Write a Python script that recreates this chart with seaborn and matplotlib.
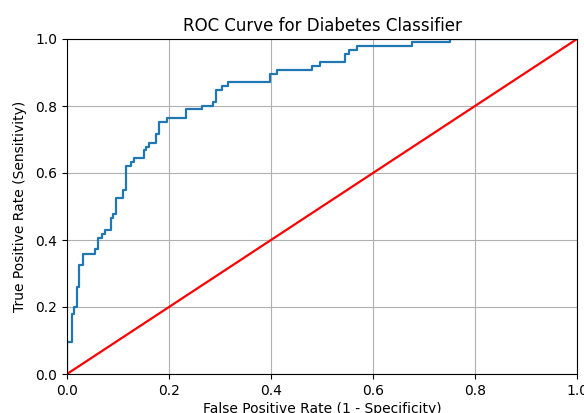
import matplotlib
matplotlib.use("Agg")
import matplotlib.pyplot as plt
import seaborn as sns

fpr = [0.0, 0.0, 0.009, 0.014, 0.020, 0.024, 0.032, 0.055, 0.061, 0.068, 0.074,
       0.086, 0.091, 0.097, 0.109, 0.115, 0.125, 0.132, 0.150, 0.155, 0.161,
       0.175, 0.180, 0.197, 0.233, 0.264, 0.287, 0.292, 0.303, 0.316, 0.399,
       0.411, 0.481, 0.496, 0.545, 0.552, 0.568, 0.676, 0.751, 1.0]
tpr = [0.0, 0.095, 0.18, 0.20, 0.26, 0.325, 0.357, 0.373, 0.405, 0.418, 0.43,
       0.465, 0.478, 0.526, 0.549, 0.621, 0.632, 0.644, 0.669, 0.679, 0.690,
       0.715, 0.751, 0.764, 0.790, 0.799, 0.811, 0.849, 0.860, 0.871, 0.896,
       0.907, 0.918, 0.930, 0.954, 0.967, 0.980, 0.990, 1.0, 1.0]
diag = [0.0, 1.0]

title = "ROC Curve for Diabetes Classifier"
xlabel = "False Positive Rate (1 - Specificity)"
ylabel = "True Positive Rate (Sensitivity)"

plt.rcParams['font.family'] = ['DejaVu Sans']
fig = plt.figure(figsize=(5.84, 4.13), dpi=100)
ax = fig.add_axes([67/584, 39/413, 510/584, 335/413])

sns.lineplot(x=fpr, y=tpr, estimator=None, sort=False, drawstyle='steps-post',
             color='#1f77b4', linewidth=1.6, ax=ax)
sns.lineplot(x=diag, y=diag, estimator=None, sort=False, color='red',
             linewidth=1.6, ax=ax)

ax.set_xlim(0, 1)
ax.set_ylim(0, 1)
ax.set_title(title, fontsize=12)
ax.set_xlabel(xlabel, fontsize=10, labelpad=3)
ax.set_ylabel(ylabel, fontsize=10, labelpad=6)
ax.grid(True, color='#b0b0b0', linewidth=0.8)
ax.set_axisbelow(True)

fig.savefig("out.png", dpi=100)
